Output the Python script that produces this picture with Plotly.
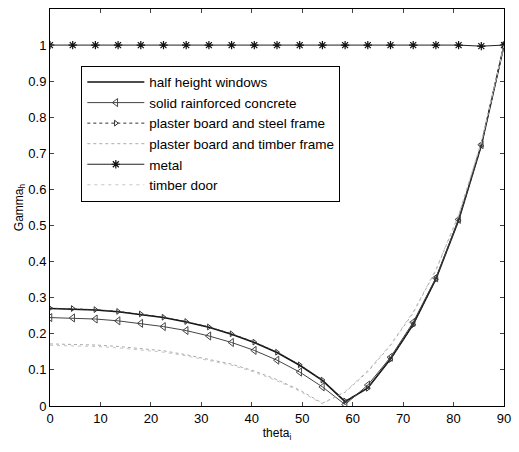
import plotly.graph_objects as go

theta = [0, 4.5, 9, 13.5, 18, 22.5, 27, 31.5, 36, 40.5, 45, 49.5, 54, 58.5, 63, 67.5, 72, 76.5, 81, 85.5, 90]

half_height = [0.270, 0.269, 0.266, 0.261, 0.254, 0.245, 0.233, 0.218, 0.199, 0.176, 0.148, 0.113, 0.071, 0.012, 0.050, 0.130, 0.226, 0.352, 0.515, 0.722, 1.0]
concrete = [0.245, 0.244, 0.241, 0.236, 0.229, 0.220, 0.209, 0.194, 0.176, 0.154, 0.127, 0.094, 0.053, 0.004, 0.058, 0.135, 0.232, 0.355, 0.517, 0.724, 1.0]
steel_frame = [0.271, 0.270, 0.267, 0.262, 0.255, 0.246, 0.234, 0.219, 0.200, 0.177, 0.149, 0.114, 0.072, 0.014, 0.049, 0.129, 0.225, 0.351, 0.514, 0.721, 1.0]
timber_frame = [0.172, 0.171, 0.169, 0.165, 0.160, 0.153, 0.142, 0.130, 0.116, 0.097, 0.073, 0.044, 0.008, 0.038, 0.095, 0.168, 0.258, 0.376, 0.528, 0.730, 1.0]
metal = [1.0, 1.0, 1.0, 1.0, 1.0, 1.0, 1.0, 1.0, 1.0, 1.0, 1.0, 1.0, 1.0, 1.0, 1.0, 1.0, 1.0, 1.0, 1.0, 0.997, 1.0]
timber_door = [0.168, 0.167, 0.165, 0.161, 0.156, 0.149, 0.139, 0.127, 0.113, 0.094, 0.070, 0.041, 0.006, 0.040, 0.098, 0.170, 0.261, 0.378, 0.530, 0.731, 1.0]

names = ["half height windows", "solid rainforced concrete", "plaster board and steel frame",
         "plaster board and timber frame", "metal", "timber door"]

FONT = "Liberation Sans, Arial, sans-serif"

fig = go.Figure()
fig.add_trace(go.Scatter(x=theta, y=half_height, name=names[0], mode="lines",
                         line=dict(color="#111111", width=1.6)))
fig.add_trace(go.Scatter(x=theta, y=concrete, name=names[1], mode="lines+markers",
                         line=dict(color="#444444", width=1),
                         marker=dict(symbol="triangle-left-open", size=7, color="#444444",
                                     line=dict(width=1))))
fig.add_trace(go.Scatter(x=theta, y=steel_frame, name=names[2], mode="lines+markers",
                         line=dict(color="#333333", width=1, dash="dot"),
                         marker=dict(symbol="triangle-right-open", size=5, color="#333333",
                                     line=dict(width=1))))
fig.add_trace(go.Scatter(x=theta, y=timber_frame, name=names[3], mode="lines",
                         line=dict(color="#aaaaaa", width=1, dash="dot")))
fig.add_trace(go.Scatter(x=theta, y=metal, name=names[4], mode="lines+markers",
                         line=dict(color="#222222", width=1),
                         marker=dict(symbol="asterisk-open", size=7, color="#111111",
                                     line=dict(width=1.2, color="#111111"))))
fig.add_trace(go.Scatter(x=theta, y=timber_door, name=names[5], mode="lines",
                         line=dict(color="#c4c4c4", width=1, dash="3px,4px")))

fig.update_layout(
    width=519, height=452,
    margin=dict(l=50, r=8, t=8, b=46),
    paper_bgcolor="white", plot_bgcolor="white",
    font=dict(family=FONT, size=13, color="black"),
    showlegend=True,
    legend=dict(x=0.069, y=0.857, xanchor="left", yanchor="top",
                bgcolor="white", bordercolor="black", borderwidth=1,
                font=dict(family=FONT, size=13.5, color="black"),
                tracegroupgap=0, itemwidth=57),
)
fig.update_xaxes(range=[0, 90], tick0=0, dtick=10, ticks="inside", ticklen=4,
                 showline=True, linecolor="black", linewidth=1, mirror="ticks",
                 showgrid=False, zeroline=False,
                 title=dict(text="theta<sub>i</sub>", font=dict(size=12), standoff=4))
fig.update_yaxes(range=[0, 1.1], tickvals=[0, 0.1, 0.2, 0.3, 0.4, 0.5, 0.6, 0.7, 0.8, 0.9, 1],
                 ticktext=["0", "0.1", "0.2", "0.3", "0.4", "0.5", "0.6", "0.7", "0.8", "0.9", "1"],
                 ticks="inside", ticklen=4,
                 showline=True, linecolor="black", linewidth=1, mirror="ticks",
                 showgrid=False, zeroline=False,
                 title=dict(text="Gamma<sub>h</sub>", font=dict(size=12), standoff=2))

fig.write_html("out.html")
